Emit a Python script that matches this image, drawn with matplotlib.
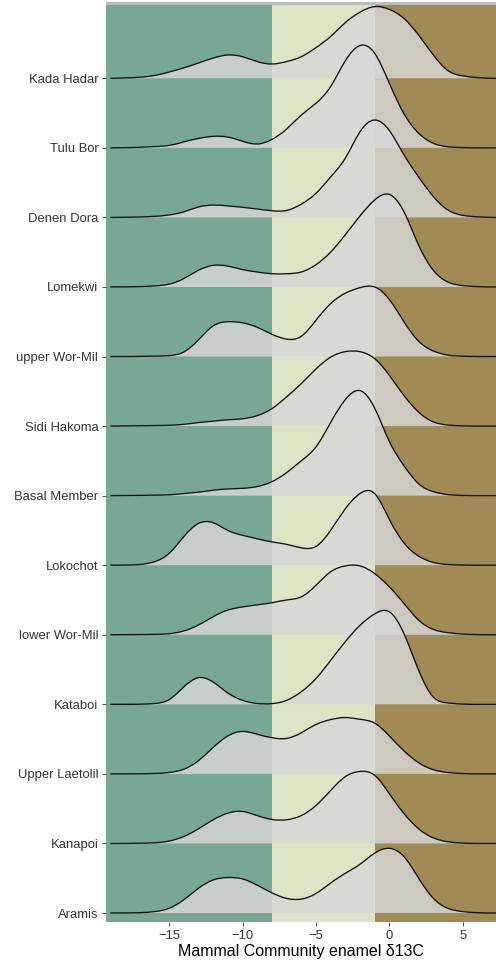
import numpy as np
import matplotlib
matplotlib.use("Agg")
import matplotlib.pyplot as plt
from matplotlib.path import Path
from matplotlib.patches import PathPatch

plt.rcParams["font.family"] = ["Liberation Sans", "DejaVu Sans"]

# sites, top row first
SITES = [
    "Kada Hadar", "Tulu Bor", "Denen Dora", "Lomekwi", "upper Wor-Mil",
    "Sidi Hakoma", "Basal Member", "Lokochot", "lower Wor-Mil", "Kataboi",
    "Upper Laetolil", "Kanapoi", "Aramis",
]

# density grid (d13C, permil) and ridge heights in row units
D13C = list(range(-19, 9))

kada_hadar = [0, 0.005, 0.015, 0.04, 0.09, 0.15, 0.22, 0.29, 0.335, 0.31, 0.24, 0.205, 0.24, 0.31,
              0.44, 0.60, 0.80, 0.95, 1.03, 0.99, 0.86, 0.62, 0.335, 0.11, 0.034, 0.01, 0, 0]
tulu_bor = [0, 0.003, 0.008, 0.018, 0.035, 0.085, 0.135, 0.165, 0.155, 0.095, 0.055, 0.12, 0.27, 0.47,
            0.64, 0.88, 1.25, 1.47, 1.36, 0.93, 0.49, 0.21, 0.065, 0.015, 0.004, 0, 0, 0]
denen_dora = [0, 0.002, 0.006, 0.015, 0.035, 0.08, 0.15, 0.177, 0.165, 0.145, 0.12, 0.096, 0.10, 0.19,
              0.345, 0.58, 0.85, 1.23, 1.40, 1.25, 0.90, 0.58, 0.30, 0.105, 0.03, 0.008, 0, 0]
lomekwi = [0, 0.002, 0.005, 0.015, 0.04, 0.12, 0.24, 0.31, 0.30, 0.25, 0.215, 0.19, 0.19, 0.215,
           0.32, 0.50, 0.75, 1.02, 1.25, 1.33, 1.08, 0.60, 0.24, 0.07, 0.02, 0.005, 0, 0]
upper_wor_mil = [0, 0, 0.002, 0.006, 0.012, 0.065, 0.24, 0.44, 0.50, 0.485, 0.42, 0.32, 0.25, 0.29,
                 0.52, 0.76, 0.91, 0.99, 1.0, 0.82, 0.50, 0.22, 0.08, 0.02, 0.005, 0, 0, 0]
sidi_hakoma = [0, 0.002, 0.005, 0.008, 0.012, 0.025, 0.05, 0.07, 0.09, 0.105, 0.15, 0.25, 0.42, 0.61,
               0.82, 0.99, 1.07, 1.07, 0.97, 0.73, 0.44, 0.20, 0.06, 0.015, 0.003, 0, 0, 0]
basal_member = [0, 0.002, 0.004, 0.007, 0.012, 0.03, 0.05, 0.077, 0.096, 0.105, 0.13, 0.20, 0.33, 0.50,
                0.70, 1.05, 1.38, 1.51, 1.26, 0.78, 0.43, 0.17, 0.057, 0.015, 0.003, 0, 0, 0]
lokochot = [0, 0.002, 0.01, 0.05, 0.17, 0.41, 0.60, 0.61, 0.50, 0.43, 0.38, 0.335, 0.30, 0.25,
            0.27, 0.50, 0.81, 1.03, 1.03, 0.66, 0.32, 0.13, 0.04, 0.01, 0.002, 0, 0, 0]
lower_wor_mil = [0, 0.002, 0.003, 0.006, 0.015, 0.055, 0.14, 0.26, 0.355, 0.40, 0.43, 0.46, 0.50, 0.545,
                 0.71, 0.905, 0.99, 0.99, 0.88, 0.69, 0.45, 0.21, 0.077, 0.03, 0.01, 0.002, 0, 0]
kataboi = [0, 0, 0.002, 0.012, 0.067, 0.25, 0.383, 0.32, 0.163, 0.057, 0.012, 0.01, 0.057, 0.18,
           0.37, 0.63, 0.90, 1.135, 1.30, 1.33, 1.015, 0.49, 0.105, 0.02, 0.003, 0, 0, 0]
upper_laetolil = [0, 0, 0.002, 0.006, 0.02, 0.067, 0.19, 0.38, 0.545, 0.61, 0.57, 0.52, 0.51, 0.59,
                  0.71, 0.78, 0.81, 0.785, 0.73, 0.545, 0.33, 0.16, 0.06, 0.02, 0.005, 0, 0, 0]
kanapoi = [0, 0, 0.003, 0.01, 0.034, 0.10, 0.21, 0.34, 0.435, 0.46, 0.40, 0.345, 0.34, 0.40,
           0.545, 0.76, 0.96, 1.035, 0.98, 0.715, 0.43, 0.21, 0.08, 0.024, 0.005, 0, 0, 0]
aramis = [0, 0.002, 0.005, 0.02, 0.067, 0.19, 0.355, 0.475, 0.51, 0.49, 0.40, 0.29, 0.21, 0.20,
          0.28, 0.43, 0.57, 0.70, 0.86, 0.93, 0.81, 0.50, 0.21, 0.067, 0.02, 0.005, 0, 0]

DENSITY = [kada_hadar, tulu_bor, denen_dora, lomekwi, upper_wor_mil, sidi_hakoma, basal_member,
           lokochot, lower_wor_mil, kataboi, upper_laetolil, kanapoi, aramis]

# vegetation bands: C3 forest / mixed / C4 grassland
C3_LIMIT = -8
C4_LIMIT = -1
BAND_COLORS = ["#78a892", "#dde4c5", "#a08a55"]

FILL = "#d8d7d6"
XMIN, XMAX = -19.3, 7.27


def spline_path(xs, ys):
    # natural cubic spline through the points, written as bezier segments
    x = np.asarray(xs, float)
    y = np.asarray(ys, float)
    h = np.diff(x)
    k = len(x)
    A = np.zeros((k, k))
    r = np.zeros(k)
    A[0, 0] = A[-1, -1] = 1
    for i in range(1, k - 1):
        A[i, i - 1] = h[i - 1]
        A[i, i] = 2 * (h[i - 1] + h[i])
        A[i, i + 1] = h[i]
        r[i] = 6 * ((y[i + 1] - y[i]) / h[i] - (y[i] - y[i - 1]) / h[i - 1])
    M = np.linalg.solve(A, r)
    verts = [(x[0], y[0])]
    codes = [Path.MOVETO]
    for i in range(k - 1):
        s = (y[i + 1] - y[i]) / h[i]
        d0 = s - h[i] * (2 * M[i] + M[i + 1]) / 6
        d1 = s + h[i] * (M[i] + 2 * M[i + 1]) / 6
        verts += [(x[i] + h[i] / 3, y[i] + d0 * h[i] / 3),
                  (x[i + 1] - h[i] / 3, y[i + 1] - d1 * h[i] / 3),
                  (x[i + 1], y[i + 1])]
        codes += [Path.CURVE4] * 3
    return verts, codes


fig = plt.figure(figsize=(4.96, 9.61), dpi=100)
ax = fig.add_axes([106 / 496, 39 / 961, 390 / 496, 920 / 961])
ax.set_facecolor("#bdbdbd")

n = len(SITES)
row_px = 69.56
ax.set_xlim(XMIN, XMAX)
ax.set_ylim(1 - 9 / row_px, 1 - 9 / row_px + 920 / row_px)

band_top = 1 - 3 / 920
edges = [XMIN - 1, C3_LIMIT, C4_LIMIT, XMAX + 1]
for lo, hi, col in zip(edges[:-1], edges[1:], BAND_COLORS):
    ax.axvspan(lo, hi, ymin=0, ymax=band_top, color=col, lw=0, zorder=0)

for i, (site, dens) in enumerate(zip(SITES, DENSITY)):
    base = n - i
    verts, codes = spline_path(D13C, base + np.array(dens))
    fverts = verts + [(D13C[-1], base), (D13C[0], base), (D13C[0], base)]
    fcodes = codes + [Path.LINETO, Path.LINETO, Path.CLOSEPOLY]
    ax.add_patch(PathPatch(Path(fverts, fcodes), facecolor=FILL, alpha=0.83,
                           lw=0, zorder=2 + 2 * i))
    ax.add_patch(PathPatch(Path(verts, codes), facecolor="none", edgecolor="#111111",
                           lw=0.95, zorder=3 + 2 * i))

for s in ax.spines.values():
    s.set_visible(False)

ax.set_yticks([n - i for i in range(n)], SITES)
ax.set_xticks([-15, -10, -5, 0, 5])
ax.tick_params(axis="both", length=3, width=0.6, color="#333333", pad=2.5,
               labelsize=9.4, labelcolor="#333333")
ax.set_xlabel("Mammal Community enamel δ13C", fontsize=11.5, labelpad=2, color="black")

fig.savefig("out.png", dpi=100)
